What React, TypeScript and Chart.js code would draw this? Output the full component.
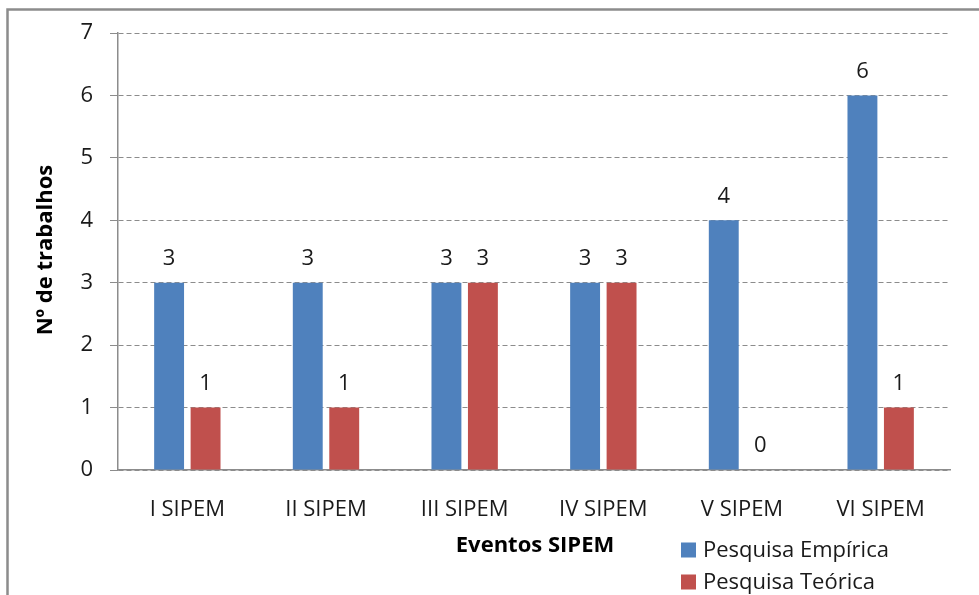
import React, { useEffect, useRef } from "react";
import { Chart, registerables } from "chart.js";

Chart.register(...registerables);

const categories = ["I SIPEM", "II SIPEM", "III SIPEM", "IV SIPEM", "V SIPEM", "VI SIPEM"];
const empirica = [3, 3, 3, 3, 4, 6];
const teorica = [1, 1, 3, 3, 0, 1];
const seriesNames = ["Pesquisa Empírica", "Pesquisa Teórica"];
const seriesColors = ["#4F81BD", "#C0504D"];
const yTitle = "Nº de trabalhos";
const xTitle = "Eventos SIPEM";

const FONT = "'Open Sans', 'Noto Sans', sans-serif";

const decorPlugin = {
  id: "decor",
  beforeDraw(chart: any) {
    const ctx = chart.ctx;
    ctx.save();
    ctx.fillStyle = "#ffffff";
    ctx.fillRect(0, 0, chart.width, chart.height);
    ctx.strokeStyle = "#8c8c8c";
    ctx.lineWidth = 2.5;
    ctx.strokeRect(7.5, 9.5, 1200, 1200);
    ctx.restore();
  },
  afterDatasetsDraw(chart: any) {
    const ctx = chart.ctx;
    ctx.save();
    ctx.font = `22px ${FONT}`;
    ctx.fillStyle = "#1a1a1a";
    ctx.textAlign = "center";
    ctx.textBaseline = "middle";
    chart.data.datasets.forEach((ds: any, di: number) => {
      const meta = chart.getDatasetMeta(di);
      meta.data.forEach((el: any, i: number) => {
        ctx.fillText(String(ds.data[i]), el.x, el.y - 24);
      });
    });
    // axis titles
    ctx.font = `bold 22px ${FONT}`;
    ctx.fillStyle = "#000000";
    ctx.fillText(xTitle, 535, 546);
    ctx.save();
    ctx.translate(46, 250);
    ctx.rotate(-Math.PI / 2);
    ctx.fillText(yTitle, 0, 0);
    ctx.restore();
    // legend
    ctx.font = `22px ${FONT}`;
    ctx.textAlign = "left";
    const rows = [550, 582];
    seriesNames.forEach((name, i) => {
      ctx.fillStyle = seriesColors[i];
      ctx.fillRect(681, rows[i] - 7.5, 15, 15);
      ctx.fillStyle = "#1a1a1a";
      ctx.fillText(name, 703, rows[i] + 1);
    });
    ctx.restore();
  },
};

export default function App() {
  const ref = useRef<HTMLCanvasElement | null>(null);
  useEffect(() => {
    if (!ref.current) return;
    const chart = new Chart(ref.current, {
      type: "bar",
      data: {
        labels: categories,
        datasets: [
          { label: seriesNames[0], data: empirica, backgroundColor: seriesColors[0], borderWidth: 0 },
          { label: seriesNames[1], data: teorica, backgroundColor: seriesColors[1], borderWidth: 0 },
        ],
      },
      options: {
        responsive: false,
        animation: false,
        layout: { padding: { left: 0, top: 33, right: 29, bottom: 0 } },
        categoryPercentage: 0.526,
        barPercentage: 0.82,
        plugins: { legend: { display: false }, tooltip: { enabled: false } },
        scales: {
          x: {
            grid: { display: false },
            border: { display: true, color: "#8c8c8c", width: 1.5 },
            ticks: { color: "#1a1a1a", font: { family: FONT, size: 22 }, padding: 19, maxRotation: 0 },
            afterFit: (s: any) => { s.height = 125; },
          },
          y: {
            min: 0,
            max: 7,
            ticks: { stepSize: 1, color: "#1a1a1a", font: { family: FONT, size: 22 }, padding: 17 },
            grid: {
              color: "#8c8c8c",
              lineWidth: 1,
              tickLength: 8,
              tickColor: "#8c8c8c",
              tickBorderDash: [],
            },
            border: { display: true, color: "#8c8c8c", width: 1.5, dash: [5, 3] },
            afterFit: (s: any) => { s.width = 118; },
          },
        },
      },
      plugins: [decorPlugin],
    });
    return () => chart.destroy();
  }, []);
  return (
    <div style={{ position: "absolute", left: 0, top: 0, width: 979, height: 595 }}>
      <canvas ref={ref} width={979} height={595} />
    </div>
  );
}
